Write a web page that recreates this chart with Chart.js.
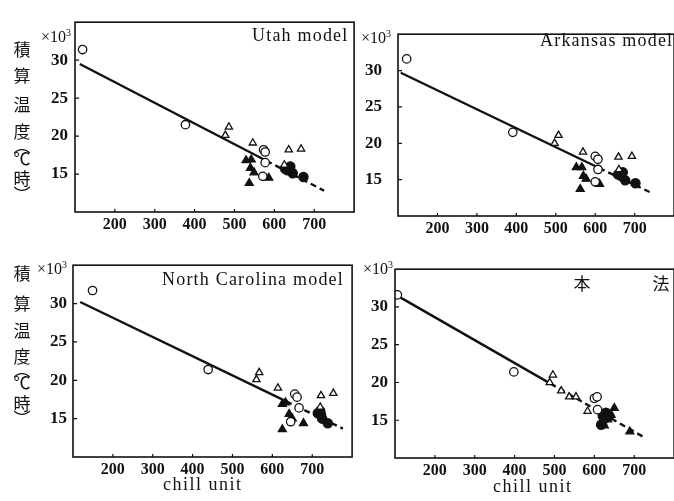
<!DOCTYPE html>
<html>
<head>
<meta charset="utf-8">
<script src="https://cdn.jsdelivr.net/npm/chart.js@4"></script>
<style>
  body { margin: 0; width: 674px; height: 501px; overflow: hidden; background: #fff; position: relative; }
  canvas { position: absolute; }
  .t { position: absolute; font-family: "Liberation Serif", "DejaVu Serif", serif; color: #111; white-space: nowrap; line-height: 18px; }
  .jp { position: absolute; font-family: "Noto Sans CJK JP", sans-serif; color: #111; width: 22px; text-align: center; line-height: 20px; font-size: 17px; }
  sup { font-size: 10px; vertical-align: 6px; }
</style>
</head>
<body>
<canvas id="utah"></canvas>
<canvas id="arkansas"></canvas>
<canvas id="carolina"></canvas>
<canvas id="honpo"></canvas>

<div class="t" style="left:252px;top:26px;font-size:18px;letter-spacing:1.2px">Utah model</div>
<div class="t" style="left:540px;top:31px;font-size:18px;letter-spacing:1.2px">Arkansas model</div>
<div class="t" style="left:162px;top:270px;font-size:18px;letter-spacing:1.2px">North Carolina model</div>
<div class="jp" style="left:571px;top:273px">本</div>
<div class="jp" style="left:650px;top:273px">法</div>

<div class="t" style="left:41px;top:24px;font-size:16px">×10<sup>3</sup></div>
<div class="t" style="left:361px;top:25px;font-size:16px">×10<sup>3</sup></div>
<div class="t" style="left:37px;top:256px;font-size:16px">×10<sup>3</sup></div>
<div class="t" style="left:363px;top:256px;font-size:16px">×10<sup>3</sup></div>

<div class="t" style="left:163px;top:475px;font-size:18px;letter-spacing:1.5px">chill unit</div>
<div class="t" style="left:493px;top:477px;font-size:18px;letter-spacing:1.5px">chill unit</div>

<script>
// values in x10^3 degree-hours vs chill unit
const xTicks = [200, 300, 400, 500, 600, 700];
const yTicks = [15, 20, 25, 30];
const axisLabelChars = ["積", "算", "温", "度", "︵", "℃", "時", "︶"];

const utahOpenCircles = [[119, 31.4], [377, 21.5], [573, 18.2], [577, 17.9], [577, 16.5], [571, 14.7]];
const utahOpenTriangles = [[486, 21.2], [477, 20.1], [546, 19.1], [636, 18.2], [667, 18.3], [625, 16.2]];
const utahFilledTriangles = [[529, 16.8], [542, 16.9], [540, 15.8], [549, 15.2], [537, 13.8], [586, 14.5]];
const utahFilledCircles = [[627, 15.7], [640, 16.0], [633, 15.5], [646, 15.1], [673, 14.6]];
const utahLine = [[112, 29.5], [580, 16.75], [725, 12.8]];

const arkOpenCircles = [[122, 31.6], [391, 21.5], [600, 18.2], [607, 17.8], [607, 16.4], [600, 14.7]];
const arkOpenTriangles = [[507, 21.1], [497, 20.0], [569, 18.8], [659, 18.1], [693, 18.2], [660, 16.4]];
const arkFilledTriangles = [[552, 16.7], [566, 16.7], [570, 15.5], [577, 15.1], [562, 13.7], [611, 14.4]];
const arkFilledCircles = [[658, 15.7], [670, 16.0], [666, 15.5], [676, 14.9], [702, 14.5]];
const arkLine = [[107, 29.7], [610, 16.6], [738, 13.3]];

const ncOpenCircles = [[149, 31.7], [439, 21.4], [656, 18.2], [662, 17.8], [667, 16.4], [646, 14.6]];
const ncOpenTriangles = [[567, 21.0], [560, 20.1], [614, 19.0], [722, 18.0], [753, 18.3], [720, 16.5]];
const ncFilledTriangles = [[625, 16.9], [633, 17.1], [642, 15.6], [650, 15.0], [625, 13.6], [678, 14.4]];
const ncFilledCircles = [[714, 15.7], [720, 16.0], [722, 15.5], [725, 15.0], [739, 14.4]];
const ncLine = [[118, 30.2], [635, 17.25], [777, 13.7]];

const honOpenCircles = [[106, 31.6], [398, 21.4], [600, 17.9], [607, 18.1], [608, 16.4]];
const honOpenTriangles = [[496, 21.0], [488, 20.0], [517, 18.9], [537, 18.1], [554, 18.1], [583, 16.2]];
const honFilledTriangles = [[650, 16.6], [642, 15.7], [633, 15.1], [621, 14.7], [689, 13.5], [625, 14.3]];
const honFilledCircles = [[621, 15.6], [629, 16.0], [625, 15.2], [617, 14.4], [637, 15.6]];
const honLine = [[112, 31.3], [490, 19.85], [721, 12.85]];

function toXY(pairs) {
    return pairs.map(p => ({ x: p[0], y: p[1] }));
}

// box around the plot, with inward ticks
const framePlugin = {
    id: "frame",
    afterDraw(chart) {
        const { ctx, chartArea: a, scales } = chart;
        ctx.save();
        ctx.strokeStyle = "#111";
        ctx.lineWidth = 1.6;
        ctx.strokeRect(a.left, a.top, a.right - a.left, a.bottom - a.top);
        ctx.lineWidth = 1.2;
        ctx.beginPath();
        yTicks.forEach(v => {
            const y = scales.y.getPixelForValue(v);
            ctx.moveTo(a.left, y);
            ctx.lineTo(a.left + 4, y);
        });
        xTicks.forEach(v => {
            const x = scales.x.getPixelForValue(v);
            ctx.moveTo(x, a.bottom);
            ctx.lineTo(x, a.bottom - 3);
        });
        ctx.stroke();
        ctx.restore();
    }
};

function makePanel(id, box, yPad, sets) {
    const yWidth = 45, xHeight = 30, padTop = 5, padRight = 5;
    const canvas = document.getElementById(id);
    canvas.width = yWidth + (box.r - box.l) + padRight;
    canvas.height = padTop + (box.b - box.t) + xHeight;
    canvas.style.left = (box.l - yWidth) + "px";
    canvas.style.top = (box.t - padTop) + "px";

    const pts = (data, fill, style, r) => ({
        data: toXY(data),
        pointStyle: style,
        pointRadius: r,
        pointBackgroundColor: fill,
        pointBorderColor: "#111",
        pointBorderWidth: 1.3,
        showLine: false
    });
    const line = (data, dash) => ({
        data: toXY(data),
        showLine: true,
        borderColor: "#111",
        borderWidth: 2.4,
        borderDash: dash,
        pointRadius: 0
    });

    new Chart(canvas, {
        type: "scatter",
        data: {
            datasets: [
                pts(sets[0], "#fff", "circle", 4.2),
                pts(sets[1], "#fff", "triangle", 4.2),
                pts(sets[2], "#111", "triangle", 4.6),
                pts(sets[3], "#111", "circle", 4.6),
                line(sets[4].slice(0, 2), []),
                line(sets[4].slice(1), [6, 4])
            ]
        },
        plugins: [framePlugin],
        options: {
            responsive: false,
            animation: false,
            layout: { padding: { top: padTop, right: padRight, left: 0, bottom: 0 } },
            plugins: { legend: { display: false }, tooltip: { enabled: false } },
            scales: {
                x: {
                    min: 100, max: 800,
                    afterBuildTicks: axis => { axis.ticks = xTicks.map(v => ({ value: v })); },
                    afterFit: axis => { axis.height = xHeight; },
                    grid: { display: false, drawTicks: false },
                    border: { display: false },
                    ticks: { padding: 3, color: "#111", maxRotation: 0, font: { family: "Liberation Serif", size: 16, weight: "bold" } }
                },
                y: {
                    min: 10, max: 35,
                    afterBuildTicks: axis => { axis.ticks = yTicks.map(v => ({ value: v })); },
                    afterFit: axis => { axis.width = yWidth; },
                    grid: { display: false, drawTicks: false },
                    border: { display: false },
                    ticks: { padding: yPad, color: "#111", font: { family: "Liberation Serif", size: 17, weight: "bold" } }
                }
            }
        }
    });
}

makePanel("utah", { l: 75, t: 10, r: 355, b: 212 }, 7,
    [utahOpenCircles, utahOpenTriangles, utahFilledTriangles, utahFilledCircles, utahLine]);
makePanel("arkansas", { l: 398, t: 13, r: 675, b: 216 }, 16,
    [arkOpenCircles, arkOpenTriangles, arkFilledTriangles, arkFilledCircles, arkLine]);
makePanel("carolina", { l: 73, t: 254, r: 353, b: 457 }, 6,
    [ncOpenCircles, ncOpenTriangles, ncFilledTriangles, ncFilledCircles, ncLine]);
makePanel("honpo", { l: 395, t: 257, r: 675, b: 458 }, 7,
    [honOpenCircles, honOpenTriangles, honFilledTriangles, honFilledCircles, honLine]);

// vertical axis title, one character at a time
const topCentres = [49, 75, 104, 131, 145, 158, 178, 194];
const bottomCentres = [273, 303, 330, 356, 369, 382, 403, 418];
[topCentres, bottomCentres].forEach(centres => {
    axisLabelChars.forEach((ch, i) => {
        const d = document.createElement("div");
        d.className = "jp";
        d.textContent = ch;
        d.style.left = "11px";
        d.style.top = (centres[i] - 10) + "px";
        document.body.appendChild(d);
    });
});
</script>
</body>
</html>
